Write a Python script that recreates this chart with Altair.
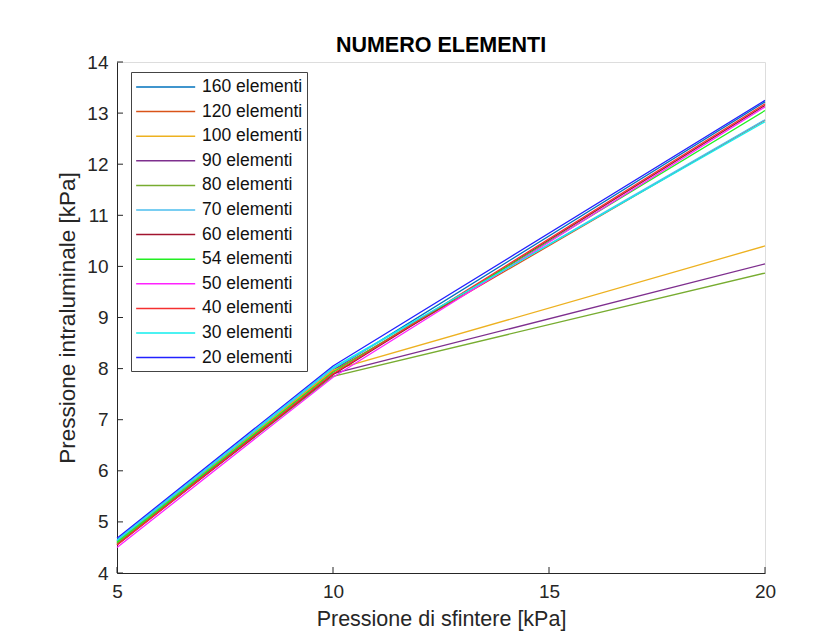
import altair as alt
import pandas as pd

x_vals = [5, 10, 20]
series_names = ["160 elementi", "120 elementi", "100 elementi", "90 elementi",
                "80 elementi", "70 elementi", "60 elementi", "54 elementi",
                "50 elementi", "40 elementi", "30 elementi", "20 elementi"]
series_colors = ["#0072BD", "#D95319", "#EDB120", "#7E2F8E", "#77AC30", "#4DBEEE",
                 "#A2142F", "#22ee22", "#ff22ff", "#f53030", "#11eeee", "#2222ff"]

e160 = [4.62, 7.97, 13.22]
e120 = [4.57, 7.95, 12.86]
e100 = [4.60, 7.97, 10.40]
e90 = [4.58, 7.90, 10.05]
e80 = [4.58, 7.85, 9.87]
e70 = [4.63, 8.00, 12.87]
e60 = [4.55, 7.88, 13.15]
e54 = [4.60, 7.93, 13.05]
e50 = [4.50, 7.83, 13.12]
e40 = [4.55, 7.90, 13.18]
e30 = [4.65, 8.02, 12.83]
e20 = [4.68, 8.05, 13.25]

all_series = [e160, e120, e100, e90, e80, e70, e60, e54, e50, e40, e30, e20]

x_ticks = [5, 10, 15, 20]
y_ticks = [4, 5, 6, 7, 8, 9, 10, 11, 12, 13, 14]

rows = []
for i, (name, vals) in enumerate(zip(series_names, all_series)):
    for j, (xv, yv) in enumerate(zip(x_vals, vals)):
        rows.append({"serie": name, "x": xv, "y": yv, "k": i, "p": j})
df = pd.DataFrame(rows)

W, H = 648, 511
AX = "#262626"
FONT = "Liberation Sans"

xscale = alt.Scale(domain=[5, 20], nice=False, zero=False)
yscale = alt.Scale(domain=[4, 14], nice=False, zero=False)

lines = alt.Chart(df).mark_line(strokeWidth=1.3).encode(
    x=alt.X("x:Q", scale=xscale,
            axis=alt.Axis(values=x_ticks, title="Pressione di sfintere [kPa]",
                          ticks=False, labelPadding=9, titlePadding=7,
                          grid=False, domainColor=AX, labelColor=AX, titleColor=AX,
                          labelFontSize=19, titleFontSize=21.5, labelFont=FONT,
                          titleFont=FONT, titleFontWeight="normal", labelFlush=False)),
    y=alt.Y("y:Q", scale=yscale,
            axis=alt.Axis(values=y_ticks, title="Pressione intraluminale [kPa]",
                          ticks=False, labelPadding=9, titlePadding=7,
                          grid=False, domainColor=AX, labelColor=AX, titleColor=AX,
                          labelFontSize=19, titleFontSize=22.5, labelFont=FONT,
                          titleFont=FONT, titleFontWeight="normal", labelFlush=False)),
    color=alt.Color("serie:N",
                    scale=alt.Scale(domain=series_names, range=series_colors),
                    sort=series_names,
                    legend=alt.Legend(title=None, orient="none", legendX=14, legendY=10,
                                      symbolType="M-1,0H5", symbolSize=387,
                                      symbolStrokeWidth=1.5, labelFontSize=17.5,
                                      labelFont=FONT, labelColor="#111111",
                                      labelOffset=45, rowPadding=4.6, padding=4,
                                      strokeColor="#444444", fillColor="white",
                                      labelLimit=300)),
    detail="k:O",
    order="p:O",
)

ytick_df = pd.DataFrame({"t": y_ticks})
xtick_df = pd.DataFrame({"t": x_ticks})

yt = alt.Chart(ytick_df).mark_rule(color=AX, strokeWidth=1).encode(
    y=alt.Y("t:Q", scale=yscale), x=alt.value(0), x2=alt.value(6))
xt = alt.Chart(xtick_df).mark_rule(color=AX, strokeWidth=1).encode(
    x=alt.X("t:Q", scale=xscale), y=alt.value(H), y2=alt.value(H - 6))

chart = alt.layer(yt, xt, lines).properties(
    width=W, height=H,
    title=alt.Title("NUMERO ELEMENTI", fontSize=21.5, fontWeight="bold", font=FONT,
                    color="#000000", offset=-3),
    autosize=alt.AutoSizeParams(type="none"),
    padding={"left": 109, "top": 54, "right": 55, "bottom": 62},
).configure_view(stroke=None).configure(background="white")

chart.save("out.html", embed_options={"renderer": "svg", "actions": False})
